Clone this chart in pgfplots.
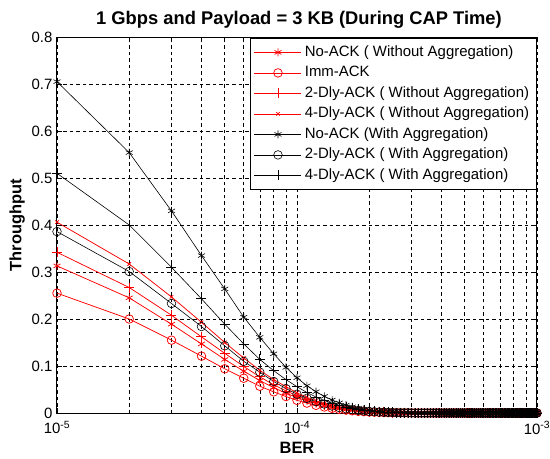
\documentclass[border=0pt]{standalone}
\usepackage{fontspec}
\setmainfont{Liberation Sans}
\usepackage{pgfplots}
\pgfplotsset{compat=1.18}
\usepackage{pgfplotstable}

\pgfplotstableread{
x a b c d e f g
1e-5 0.313 0.255 0.342 0.406 0.705 0.386 0.510
2e-5 0.245 0.200 0.267 0.317 0.554 0.301 0.400
3e-5 0.189 0.155 0.208 0.247 0.430 0.233 0.310
4e-5 0.147 0.121 0.162 0.193 0.335 0.184 0.243
5e-5 0.114 0.094 0.127 0.150 0.264 0.143 0.189
6e-5 0.089 0.074 0.099 0.117 0.204 0.110 0.147
7e-5 0.069 0.057 0.077 0.091 0.161 0.087 0.114
8e-5 0.054 0.045 0.060 0.071 0.126 0.067 0.090
9e-5 0.042 0.035 0.047 0.056 0.097 0.052 0.071
10e-5 0.033 0.027 0.037 0.043 0.075 0.040 0.056
11e-5 0.0257 0.0211 0.0289 0.0335 0.0580 0.0312 0.0437
12e-5 0.0201 0.0164 0.0225 0.0262 0.0453 0.0243 0.0341
13e-5 0.0157 0.0128 0.0176 0.0204 0.0354 0.0190 0.0266
14e-5 0.0122 0.0100 0.0137 0.0159 0.0276 0.0148 0.0207
15e-5 0.0095 0.0078 0.0107 0.0124 0.0215 0.0116 0.0162
16e-5 0.0074 0.0061 0.0083 0.0097 0.0168 0.0090 0.0126
17e-5 0.0058 0.0047 0.0065 0.0076 0.0131 0.0070 0.0098
18e-5 0.0045 0.0037 0.0051 0.0059 0.0102 0.0055 0.0077
19e-5 0.0035 0.0029 0.0040 0.0046 0.0080 0.0043 0.0060
20e-5 0.0027 0.0023 0.0031 0.0036 0.0062 0.0033 0.0047
21e-5 0.0021 0.0018 0.0024 0.0028 0.0048 0.0026 0.0036
22e-5 0.0017 0.0014 0.0019 0.0022 0.0038 0.0020 0.0028
23e-5 0.0013 0.0011 0.0015 0.0017 0.0030 0.0016 0.0022
24e-5 0.0010 0.0008 0.0011 0.0013 0.0023 0.0012 0.0017
25e-5 0.0008 0.0007 0.0009 0.0010 0.0018 0.0010 0.0013
26e-5 0.0006 0.0005 0.0007 0.0008 0.0014 0.0007 0.0010
27e-5 0.0005 0.0004 0.0005 0.0006 0.0011 0.0006 0.0008
28e-5 0.0004 0.0003 0.0004 0.0005 0.0008 0.0005 0.0006
29e-5 0.0003 0.0002 0.0003 0.0004 0.0007 0.0004 0.0005
30e-5 0.0002 0.0002 0.0003 0.0003 0.0005 0.0003 0.0004
31e-5 0 0 0 0 0 0 0
32e-5 0 0 0 0 0 0 0
33e-5 0 0 0 0 0 0 0
34e-5 0 0 0 0 0 0 0
35e-5 0 0 0 0 0 0 0
36e-5 0 0 0 0 0 0 0
37e-5 0 0 0 0 0 0 0
38e-5 0 0 0 0 0 0 0
39e-5 0 0 0 0 0 0 0
40e-5 0 0 0 0 0 0 0
41e-5 0 0 0 0 0 0 0
42e-5 0 0 0 0 0 0 0
43e-5 0 0 0 0 0 0 0
44e-5 0 0 0 0 0 0 0
45e-5 0 0 0 0 0 0 0
46e-5 0 0 0 0 0 0 0
47e-5 0 0 0 0 0 0 0
48e-5 0 0 0 0 0 0 0
49e-5 0 0 0 0 0 0 0
50e-5 0 0 0 0 0 0 0
51e-5 0 0 0 0 0 0 0
52e-5 0 0 0 0 0 0 0
53e-5 0 0 0 0 0 0 0
54e-5 0 0 0 0 0 0 0
55e-5 0 0 0 0 0 0 0
56e-5 0 0 0 0 0 0 0
57e-5 0 0 0 0 0 0 0
58e-5 0 0 0 0 0 0 0
59e-5 0 0 0 0 0 0 0
60e-5 0 0 0 0 0 0 0
61e-5 0 0 0 0 0 0 0
62e-5 0 0 0 0 0 0 0
63e-5 0 0 0 0 0 0 0
64e-5 0 0 0 0 0 0 0
65e-5 0 0 0 0 0 0 0
66e-5 0 0 0 0 0 0 0
67e-5 0 0 0 0 0 0 0
68e-5 0 0 0 0 0 0 0
69e-5 0 0 0 0 0 0 0
70e-5 0 0 0 0 0 0 0
71e-5 0 0 0 0 0 0 0
72e-5 0 0 0 0 0 0 0
73e-5 0 0 0 0 0 0 0
74e-5 0 0 0 0 0 0 0
75e-5 0 0 0 0 0 0 0
76e-5 0 0 0 0 0 0 0
77e-5 0 0 0 0 0 0 0
78e-5 0 0 0 0 0 0 0
79e-5 0 0 0 0 0 0 0
80e-5 0 0 0 0 0 0 0
81e-5 0 0 0 0 0 0 0
82e-5 0 0 0 0 0 0 0
83e-5 0 0 0 0 0 0 0
84e-5 0 0 0 0 0 0 0
85e-5 0 0 0 0 0 0 0
86e-5 0 0 0 0 0 0 0
87e-5 0 0 0 0 0 0 0
88e-5 0 0 0 0 0 0 0
89e-5 0 0 0 0 0 0 0
90e-5 0 0 0 0 0 0 0
91e-5 0 0 0 0 0 0 0
92e-5 0 0 0 0 0 0 0
93e-5 0 0 0 0 0 0 0
94e-5 0 0 0 0 0 0 0
95e-5 0 0 0 0 0 0 0
96e-5 0 0 0 0 0 0 0
97e-5 0 0 0 0 0 0 0
98e-5 0 0 0 0 0 0 0
99e-5 0 0 0 0 0 0 0
100e-5 0 0 0 0 0 0 0
}\data

\begin{document}
\begin{tikzpicture}
\path[use as bounding box] (-57bp,-46bp) rectangle (493bp,413bp);
\begin{axis}[
  at={(0,0)}, anchor=south west,
  scale only axis, width=480bp, height=376bp,
  xmode=log, xmin=1e-5, xmax=1e-3, ymin=0, ymax=0.8,
  xtick={1e-5,1e-4,1e-3},
  xticklabels={10\textsuperscript{-5},10\textsuperscript{-4},10\textsuperscript{-3}},
  ytick={0,0.1,0.2,0.3,0.4,0.5,0.6,0.7,0.8},
  yticklabels={0,0.1,0.2,0.3,0.4,0.5,0.6,0.7,0.8},
  tick align=inside, major tick length=5bp, minor tick length=3bp,
  xmajorgrids, ymajorgrids, xminorgrids,
  major grid style={black, line width=0.5bp, dash pattern=on 3.5bp off 3bp},
  minor grid style={black, line width=0.5bp, dash pattern=on 3.5bp off 3bp},
  axis line style={line width=1bp},
  every tick/.style={black, line width=0.6bp},
  tick label style={font=\fontsize{15}{17}\selectfont},
  xticklabel style={yshift=-5bp},
  yticklabel style={xshift=-1bp},
  xlabel={BER}, ylabel={Throughput},
  xlabel style={yshift=-1bp},
  ylabel style={yshift=0bp},
  label style={font=\fontsize{16.5}{18}\selectfont\bfseries},
  title={1 Gbps and Payload = 3 KB (During CAP Time)},
  title style={font=\fontsize{18.4}{21}\selectfont\bfseries, yshift=-1bp, xshift=2bp},
  clip=false,
  legend cell align=left,
  legend style={at={(0.999,0.998)}, anchor=north east, draw=black, line width=0.8bp, fill=white,
    font=\fontsize{15}{17}\selectfont, inner sep=4bp, row sep=0bp,
    nodes={inner sep=3bp, text height=11bp, text depth=3.5bp}},
  legend image code/.code={\draw[mark repeat=2,mark phase=2] plot coordinates {(0bp,0bp)(23.5bp,0bp)(47bp,0bp)};},
]
\addplot[red, line width=0.75bp, mark=asterisk, mark size=4bp] table[x=x,y=a]{\data};
\addlegendentry{No-ACK ( Without Aggregation)}
\addplot[red, line width=0.75bp, mark=o, mark size=4.3bp] table[x=x,y=b]{\data};
\addlegendentry{Imm-ACK}
\addplot[red, line width=0.75bp, mark=+, mark size=5bp] table[x=x,y=c]{\data};
\addlegendentry{2-Dly-ACK ( Without Aggregation)}
\addplot[red, line width=0.75bp, mark=x, mark size=2.5bp] table[x=x,y=d]{\data};
\addlegendentry{4-Dly-ACK ( Without Aggregation)}
\addplot[black, line width=0.6bp, mark=asterisk, mark size=4bp] table[x=x,y=e]{\data};
\addlegendentry{No-ACK (With Aggregation)}
\addplot[black, line width=0.6bp, mark=o, mark size=4.3bp] table[x=x,y=f]{\data};
\addlegendentry{2-Dly-ACK ( With Aggregation)}
\addplot[black, line width=0.6bp, mark=+, mark size=5bp] table[x=x,y=g]{\data};
\addlegendentry{4-Dly-ACK ( With Aggregation)}
\end{axis}
\end{tikzpicture}
\end{document}
